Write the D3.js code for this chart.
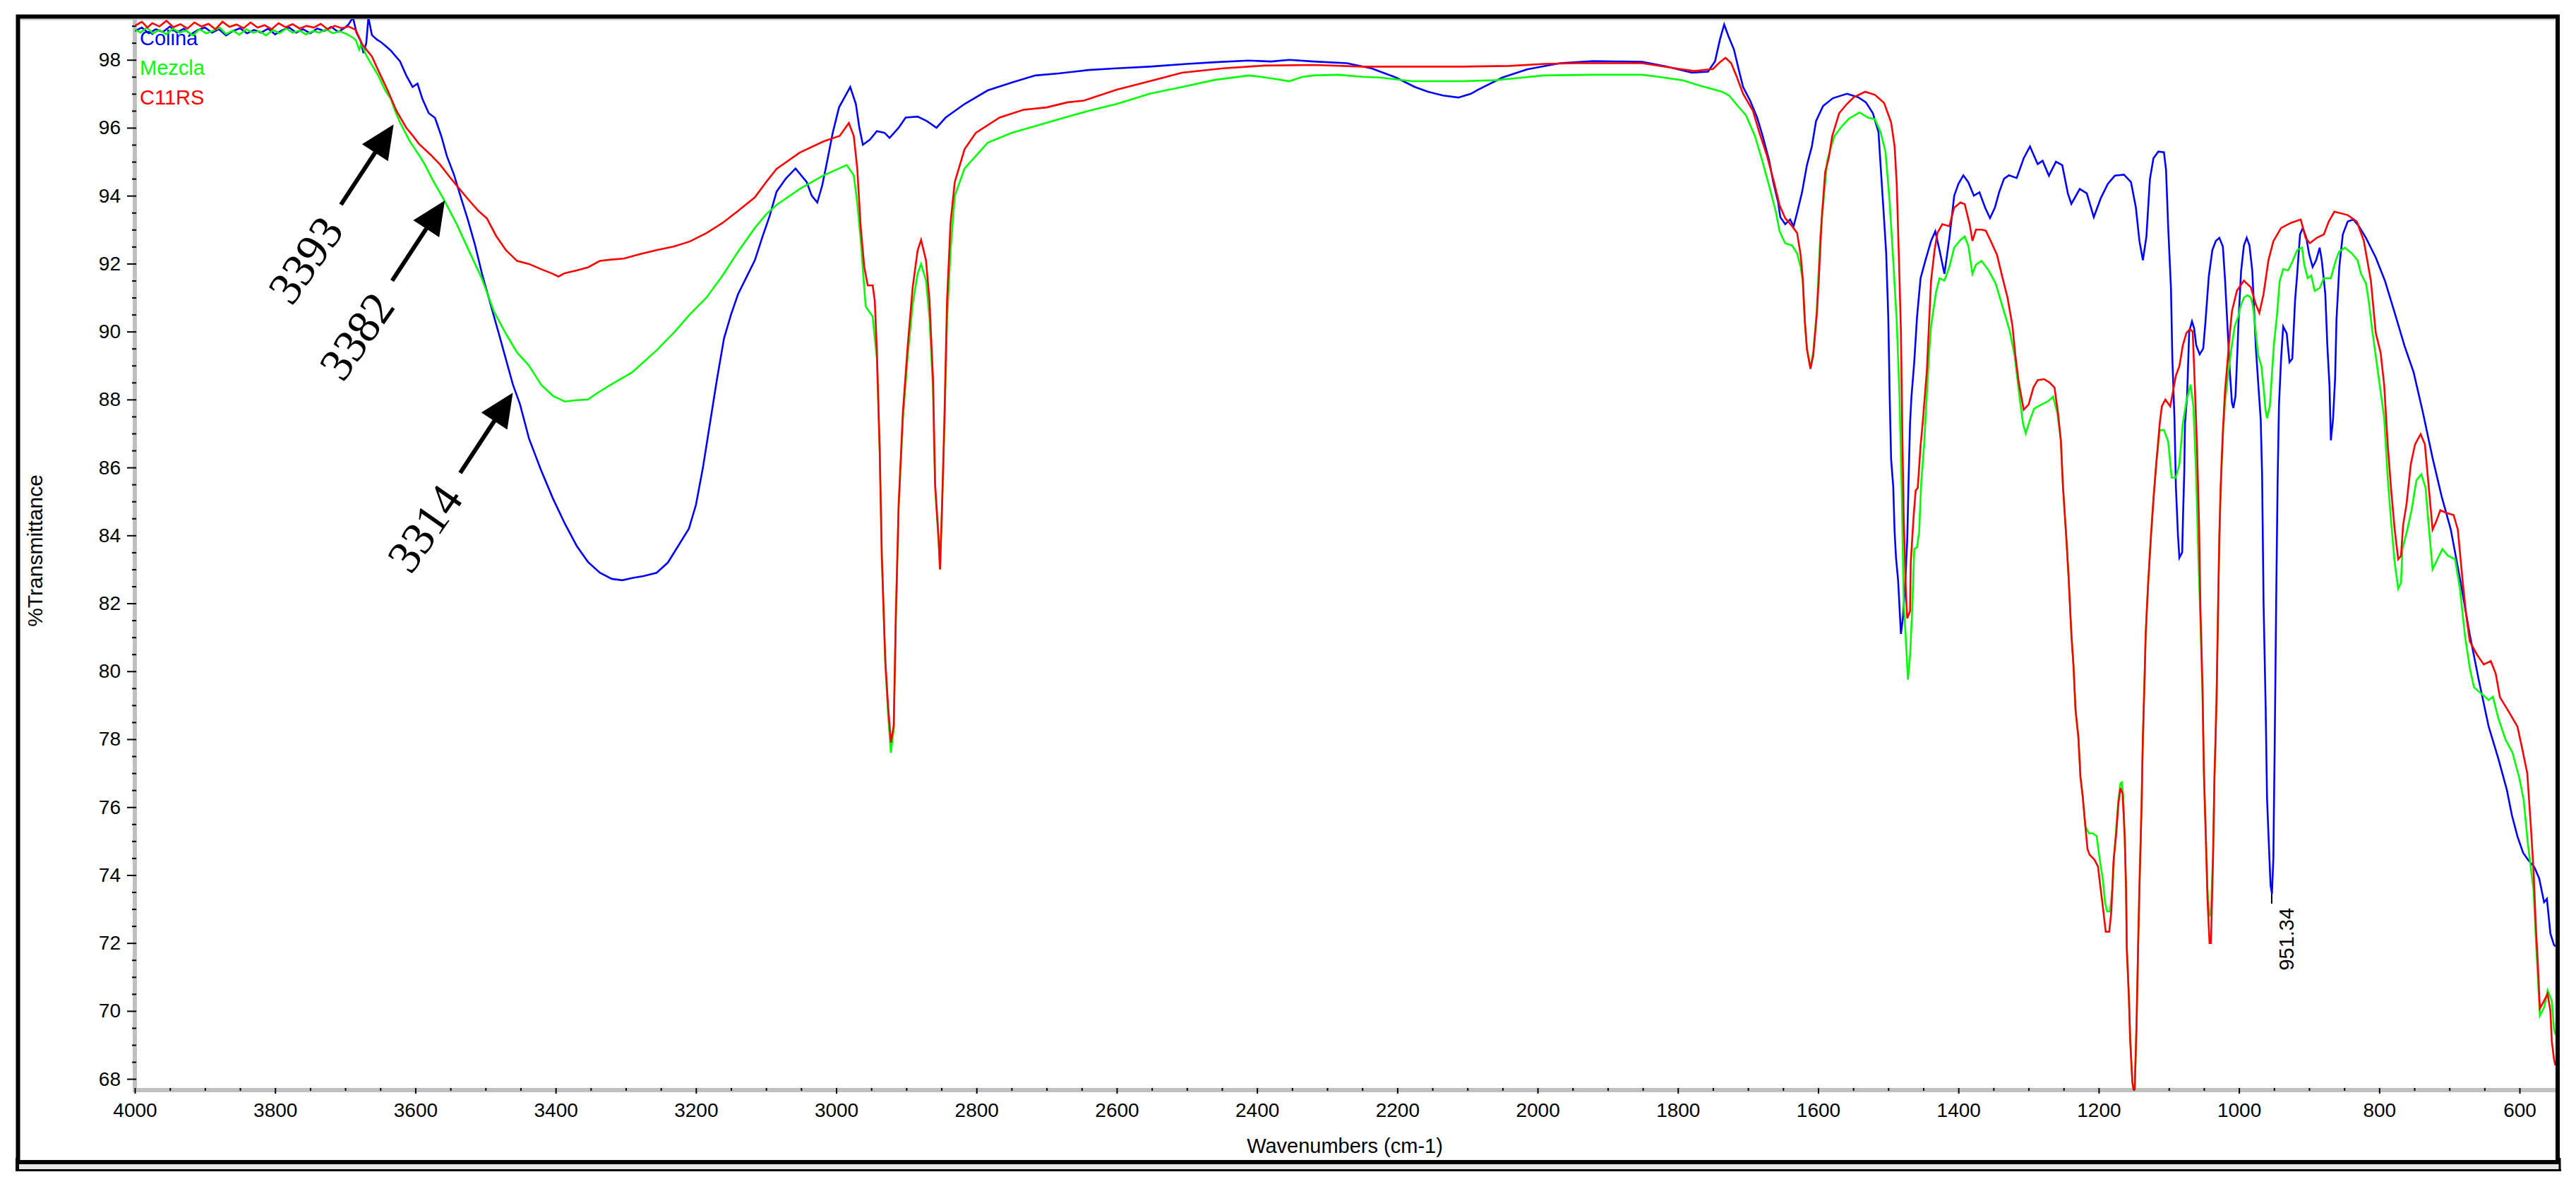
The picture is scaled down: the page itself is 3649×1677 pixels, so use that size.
<!DOCTYPE html>
<html><head><meta charset="utf-8">
<script src="https://cdn.jsdelivr.net/npm/d3@7"></script>
<style>
html,body{margin:0;padding:0;background:#fff;}
svg{display:block;}
</style></head><body>
<svg id="chart" width="3649" height="1677"></svg>
<script>
// ---------------- DATA ----------------
const seriesNames = ["Colina", "Mezcla", "C11RS"];
const seriesColors = ["#0000ff", "#00ff00", "#ff0000"];

// [wavenumber (cm-1), %T]
const colina = [[4000,98.85],[3990,98.95],[3980,98.78],[3970,98.9],[3960,98.82],[3950,98.98],[3940,98.8],[3930,98.92],[3920,98.75],[3910,98.88],[3900,98.95],[3890,98.8],[3880,98.9],[3870,98.72],[3860,98.85],[3850,98.93],[3840,98.78],[3830,98.88],[3820,98.8],[3810,98.92],[3800,98.75],[3790,98.87],[3780,98.95],[3770,98.8],[3760,98.9],[3750,98.78],[3740,98.92],[3730,98.85],[3720,98.97],[3710,98.82],[3700,98.95],[3695,99.05],[3689,99.25],[3684,98.8],[3678,98.55],[3674,98.2],[3670,98.5],[3667,99.25],[3662,98.73],[3655,98.6],[3649,98.52],[3642,98.4],[3635,98.27],[3628,98.1],[3622,97.96],[3613,97.54],[3604,97.2],[3597,97.3],[3590,96.85],[3581,96.43],[3572,96.29],[3563,95.75],[3555,95.16],[3545,94.62],[3535,93.94],[3525,93.28],[3515,92.55],[3505,91.7],[3491,90.67],[3481,89.94],[3471,89.19],[3461,88.44],[3451,87.87],[3438,86.85],[3421,85.93],[3404,85.09],[3387,84.35],[3370,83.69],[3354,83.22],[3337,82.9],[3320,82.72],[3305,82.68],[3290,82.75],[3275,82.8],[3256,82.9],[3240,83.2],[3225,83.7],[3210,84.2],[3200,84.9],[3190,86.0],[3180,87.3],[3170,88.6],[3160,89.8],[3150,90.5],[3140,91.1],[3128,91.6],[3116,92.1],[3105,92.8],[3095,93.4],[3085,94.12],[3072,94.5],[3058,94.8],[3042,94.4],[3035,94.0],[3027,93.8],[3020,94.3],[3015,94.8],[3005,95.85],[2996,96.6],[2988,96.9],[2980,97.2],[2972,96.7],[2967,96.0],[2962,95.5],[2952,95.65],[2942,95.9],[2931,95.85],[2924,95.7],[2911,96.0],[2901,96.3],[2884,96.33],[2871,96.2],[2857,96.0],[2844,96.3],[2817,96.7],[2784,97.1],[2750,97.33],[2716,97.54],[2683,97.6],[2640,97.7],[2600,97.75],[2553,97.8],[2500,97.88],[2460,97.93],[2412,97.98],[2380,97.95],[2354,98.0],[2319,97.95],[2272,97.9],[2237,97.75],[2202,97.48],[2175,97.2],[2156,97.06],[2135,96.95],[2113,96.89],[2095,97.0],[2085,97.12],[2050,97.48],[2015,97.72],[1968,97.9],[1921,97.96],[1880,97.95],[1851,97.94],[1816,97.8],[1780,97.62],[1757,97.65],[1747,97.96],[1740,98.6],[1734,99.04],[1728,98.7],[1720,98.3],[1713,97.69],[1707,97.2],[1697,96.8],[1687,96.3],[1679,95.75],[1670,95.05],[1664,94.4],[1657,93.8],[1654,93.37],[1647,93.16],[1640,93.3],[1635,93.1],[1630,93.5],[1623,94.1],[1616,94.9],[1609,95.45],[1603,96.2],[1593,96.64],[1579,96.87],[1559,97.0],[1543,96.9],[1532,96.75],[1522,96.43],[1514,95.87],[1511,94.9],[1506,93.3],[1503,92.3],[1500,90.4],[1498,88.08],[1496,86.25],[1493,85.45],[1491,84.1],[1489,83.34],[1486,82.67],[1484,81.88],[1482,81.1],[1479,81.6],[1476,82.55],[1473,83.87],[1471,85.7],[1469,87.3],[1467,88.08],[1463,89.1],[1459,90.44],[1454,91.57],[1447,92.1],[1439,92.67],[1433,92.95],[1427,92.4],[1420,91.7],[1413,92.74],[1406,94.0],[1400,94.35],[1393,94.6],[1386,94.4],[1378,94.0],[1370,94.1],[1362,93.65],[1355,93.34],[1348,93.65],[1342,94.1],[1335,94.5],[1328,94.6],[1317,94.52],[1307,95.1],[1298,95.45],[1287,94.93],[1280,95.03],[1271,94.59],[1261,95.0],[1252,94.9],[1244,94.07],[1239,93.76],[1227,94.2],[1217,94.07],[1207,93.37],[1197,93.93],[1187,94.35],[1177,94.59],[1164,94.62],[1154,94.4],[1147,93.65],[1142,92.67],[1137,92.1],[1132,92.8],[1127,94.49],[1122,95.1],[1115,95.3],[1107,95.28],[1104,94.76],[1101,93.1],[1097,91.28],[1095,89.2],[1092,87.45],[1090,85.45],[1087,84.0],[1085,83.34],[1081,83.5],[1080,84.39],[1078,85.9],[1077,87.3],[1074,88.1],[1071,90.0],[1067,90.3],[1064,90.1],[1061,89.6],[1056,89.33],[1051,89.5],[1048,90.24],[1043,91.63],[1038,92.4],[1033,92.67],[1028,92.76],[1023,92.5],[1020,91.57],[1016,90.0],[1013,88.8],[1010,87.9],[1008,87.75],[1005,88.1],[1003,89.06],[1000,90.6],[997,91.78],[993,92.53],[989,92.76],[985,92.53],[981,91.78],[976,89.54],[972,88.3],[969,87.4],[967,85.71],[965,82.05],[962,78.96],[960,76.25],[957,74.7],[955,73.7],[953,73.45],[951,74.5],[949,78.0],[947,82.0],[945,85.5],[943,87.83],[940,89.19],[937,90.15],[932,89.95],[928,89.1],[924,89.2],[920,90.93],[917,91.7],[913,92.86],[909,93.05],[904,92.76],[900,92.28],[895,91.9],[890,92.1],[885,92.47],[882,92.1],[877,91.12],[874,89.58],[871,88.42],[869,86.8],[866,87.4],[863,88.6],[861,90.35],[857,91.9],[852,92.86],[845,93.24],[837,93.3],[829,93.1],[819,92.76],[805,92.18],[792,91.5],[778,90.55],[764,89.58],[751,88.8],[738,87.64],[724,86.28],[711,85.14],[698,84.17],[684,82.62],[671,81.08],[658,79.73],[644,78.37],[630,77.41],[618,76.5],[611,75.77],[603,75.14],[595,74.66],[588,74.45],[579,74.24],[572,73.9],[565,73.2],[561,73.3],[556,72.28],[551,71.95],[549,71.9]];

const mezcla = [[4000,98.9],[3992,98.8],[3983,98.95],[3974,98.78],[3965,98.88],[3955,98.75],[3946,98.92],[3936,98.8],[3927,98.86],[3917,98.72],[3908,98.9],[3898,98.78],[3889,98.85],[3879,98.95],[3870,98.76],[3860,98.86],[3851,98.74],[3841,98.9],[3832,98.8],[3822,98.84],[3813,98.72],[3803,98.88],[3794,98.78],[3784,98.92],[3775,98.8],[3765,98.86],[3756,98.75],[3746,98.85],[3737,98.8],[3727,98.9],[3718,98.78],[3708,98.84],[3698,98.76],[3689,98.65],[3685,98.58],[3680,98.3],[3677,98.5],[3671,98.17],[3665,97.95],[3653,97.54],[3643,97.1],[3635,96.85],[3629,96.5],[3622,96.16],[3608,95.6],[3595,95.2],[3588,94.97],[3576,94.49],[3559,93.87],[3541,93.16],[3521,92.26],[3505,91.55],[3488,90.59],[3471,89.94],[3455,89.38],[3438,89.0],[3421,88.44],[3404,88.11],[3387,87.94],[3370,87.98],[3354,88.0],[3340,88.2],[3320,88.45],[3291,88.8],[3256,89.45],[3230,90.0],[3209,90.5],[3185,91.0],[3162,91.65],[3140,92.35],[3116,93.05],[3100,93.45],[3085,93.73],[3052,94.2],[3018,94.6],[2985,94.9],[2975,94.6],[2970,93.8],[2965,92.67],[2958,90.74],[2948,90.44],[2945,89.8],[2942,89.2],[2938,86.5],[2935,83.4],[2930,80.2],[2926,78.7],[2922,77.6],[2918,78.3],[2915,81.5],[2911,84.8],[2905,87.4],[2898,89.3],[2891,90.8],[2884,91.7],[2879,91.99],[2872,91.5],[2867,90.4],[2862,88.3],[2859,85.4],[2854,83.8],[2852,83.0],[2849,84.9],[2846,87.0],[2842,90.3],[2837,92.4],[2831,94.0],[2817,94.8],[2784,95.56],[2750,95.85],[2716,96.05],[2683,96.25],[2640,96.5],[2600,96.7],[2553,97.0],[2507,97.2],[2460,97.41],[2412,97.54],[2395,97.5],[2378,97.45],[2354,97.37],[2335,97.5],[2319,97.54],[2284,97.56],[2250,97.5],[2225,97.48],[2179,97.37],[2108,97.37],[2061,97.4],[2020,97.48],[1992,97.54],[1921,97.56],[1851,97.56],[1828,97.5],[1794,97.4],[1767,97.23],[1737,97.06],[1727,96.95],[1717,96.7],[1703,96.37],[1690,95.75],[1680,95.05],[1670,94.3],[1660,93.5],[1655,92.95],[1647,92.6],[1637,92.53],[1630,92.3],[1625,91.9],[1622,91.5],[1619,90.3],[1616,89.5],[1611,88.95],[1607,89.4],[1602,90.6],[1597,92.8],[1587,95.05],[1577,95.75],[1566,96.05],[1556,96.27],[1541,96.45],[1529,96.3],[1519,96.25],[1511,95.87],[1504,95.3],[1498,93.8],[1493,92.1],[1488,90.3],[1484,88.1],[1481,85.45],[1478,82.03],[1474,80.57],[1472,79.75],[1469,80.44],[1466,81.76],[1463,83.6],[1459,83.65],[1456,84.1],[1453,85.58],[1449,86.64],[1446,87.8],[1442,89.3],[1439,90.17],[1432,91.15],[1427,91.57],[1420,91.5],[1413,91.9],[1406,92.47],[1397,92.7],[1391,92.8],[1386,92.53],[1380,91.7],[1375,91.97],[1367,92.08],[1357,91.8],[1347,91.42],[1337,90.73],[1327,90.03],[1320,89.3],[1313,88.1],[1308,87.3],[1304,87.0],[1298,87.4],[1292,87.73],[1282,87.85],[1272,87.95],[1265,88.08],[1259,87.6],[1254,86.8],[1251,85.45],[1246,83.87],[1243,82.8],[1239,81.1],[1236,80.17],[1233,78.85],[1229,78.06],[1226,76.88],[1223,76.35],[1219,75.43],[1214,75.23],[1209,75.23],[1203,75.15],[1198,74.38],[1194,73.85],[1191,73.2],[1188,72.93],[1184,72.93],[1182,73.3],[1180,73.7],[1178,74.6],[1175,75.4],[1172,76.2],[1169,76.7],[1167,76.73],[1165,76.3],[1163,75.17],[1161,73.6],[1160,71.87],[1157,70.42],[1155,69.1],[1152,67.9],[1149,67.5],[1146,69.63],[1144,71.74],[1142,73.6],[1139,75.95],[1137,78.06],[1135,79.5],[1133,81.1],[1130,82.4],[1127,83.47],[1125,84.14],[1122,85.05],[1118,86.1],[1113,87.1],[1107,87.1],[1101,86.77],[1096,85.7],[1090,85.7],[1085,86.1],[1080,87.3],[1075,87.95],[1069,88.44],[1065,87.8],[1061,85.71],[1058,83.4],[1055,81.5],[1052,79.3],[1050,77.0],[1047,75.0],[1045,73.6],[1042,72.78],[1040,72.9],[1037,74.6],[1035,76.83],[1032,79.15],[1030,81.65],[1028,83.9],[1026,85.4],[1023,86.9],[1020,87.9],[1016,88.65],[1011,89.48],[1006,90.17],[1001,90.44],[998,90.73],[993,91.0],[988,91.07],[983,91.0],[980,90.73],[977,90.17],[973,89.33],[968,88.98],[965,88.36],[962,87.67],[960,87.45],[956,87.8],[953,88.77],[950,89.68],[946,90.44],[942,91.48],[937,91.84],[930,91.8],[924,92.05],[917,92.4],[910,92.47],[907,91.97],[902,91.57],[897,91.65],[892,91.2],[885,91.28],[879,91.57],[869,91.57],[862,92.1],[857,92.36],[849,92.47],[839,92.3],[831,92.1],[826,91.7],[819,91.42],[815,90.9],[810,90.03],[803,88.98],[793,87.46],[788,85.71],[783,84.37],[778,83.2],[773,82.43],[769,82.6],[767,83.6],[760,84.17],[754,84.74],[747,85.62],[740,85.8],[734,85.4],[729,84.17],[724,83.0],[717,83.3],[710,83.6],[702,83.4],[692,83.3],[685,82.43],[678,81.08],[671,80.1],[665,79.53],[655,79.35],[644,79.15],[638,79.25],[630,78.6],[620,77.99],[610,77.6],[600,76.83],[594,76.2],[588,74.9],[580,73.55],[576,71.8],[571,69.86],[565,70.1],[560,70.6],[554,70.3],[551,69.5],[549,69.3]];

const c11rs = [[4000,99.0],[3990,99.12],[3982,98.95],[3975,99.08],[3965,98.98],[3955,99.15],[3945,98.96],[3935,99.05],[3925,98.92],[3915,99.1],[3905,98.98],[3895,99.06],[3885,98.9],[3875,99.12],[3865,98.97],[3855,99.04],[3845,98.93],[3835,99.1],[3825,98.95],[3815,99.02],[3805,98.9],[3795,99.08],[3785,98.96],[3775,99.05],[3765,98.92],[3755,99.0],[3745,98.95],[3735,99.06],[3725,98.9],[3715,99.0],[3705,98.93],[3695,98.98],[3685,98.88],[3676,98.46],[3662,98.1],[3653,97.69],[3640,97.12],[3627,96.5],[3613,96.0],[3605,95.8],[3595,95.53],[3578,95.2],[3565,94.92],[3551,94.55],[3538,94.22],[3525,93.9],[3511,93.57],[3498,93.33],[3485,92.82],[3471,92.4],[3455,92.08],[3438,91.99],[3421,91.84],[3404,91.7],[3396,91.62],[3387,91.72],[3370,91.8],[3354,91.89],[3337,92.08],[3320,92.12],[3303,92.15],[3280,92.28],[3256,92.4],[3232,92.5],[3209,92.65],[3185,92.9],[3162,93.2],[3140,93.55],[3116,93.95],[3100,94.4],[3085,94.79],[3052,95.27],[3018,95.6],[2995,95.76],[2982,96.14],[2975,95.76],[2970,94.8],[2965,93.05],[2960,91.9],[2955,91.36],[2948,91.36],[2945,90.9],[2942,89.4],[2938,86.5],[2935,83.4],[2930,80.3],[2926,78.96],[2922,77.9],[2918,78.4],[2915,81.65],[2911,84.9],[2905,87.6],[2898,89.6],[2891,91.3],[2884,92.38],[2879,92.7],[2872,92.1],[2867,90.9],[2862,88.6],[2859,85.5],[2854,83.9],[2852,83.0],[2849,84.95],[2846,87.2],[2842,90.9],[2837,93.2],[2831,94.4],[2817,95.37],[2801,95.85],[2767,96.3],[2733,96.53],[2700,96.6],[2670,96.75],[2647,96.8],[2600,97.12],[2553,97.37],[2507,97.62],[2448,97.75],[2389,97.83],[2319,97.85],[2249,97.8],[2180,97.8],[2110,97.8],[2040,97.82],[1990,97.88],[1944,97.9],[1900,97.9],[1851,97.9],[1828,97.83],[1804,97.75],[1777,97.67],[1750,97.73],[1740,97.93],[1732,98.06],[1724,97.9],[1717,97.55],[1707,97.0],[1693,96.5],[1684,95.87],[1673,95.18],[1663,94.4],[1655,93.72],[1647,93.34],[1637,93.1],[1630,92.9],[1625,92.26],[1622,91.57],[1619,90.3],[1616,89.48],[1611,88.9],[1607,89.3],[1602,90.5],[1599,91.57],[1595,93.3],[1590,94.7],[1585,95.1],[1580,95.75],[1570,96.43],[1559,96.7],[1549,96.9],[1533,97.06],[1519,96.97],[1506,96.73],[1496,96.16],[1491,95.45],[1488,94.35],[1485,92.26],[1482,90.0],[1480,87.0],[1478,84.5],[1475,82.4],[1473,81.56],[1469,81.76],[1468,83.2],[1464,84.53],[1461,85.32],[1458,85.4],[1454,86.64],[1451,87.3],[1448,88.08],[1445,88.85],[1442,90.2],[1439,91.5],[1434,92.4],[1430,92.9],[1423,93.16],[1413,93.1],[1406,93.65],[1397,93.8],[1391,93.75],[1384,93.16],[1380,92.67],[1375,93.0],[1367,93.0],[1361,92.97],[1354,92.67],[1345,92.26],[1337,91.57],[1330,91.0],[1323,90.17],[1319,89.33],[1314,88.5],[1307,87.7],[1300,87.85],[1293,88.36],[1287,88.57],[1278,88.6],[1270,88.5],[1263,88.35],[1258,87.6],[1254,86.8],[1251,85.45],[1246,83.87],[1243,82.8],[1239,81.1],[1236,80.17],[1233,78.85],[1229,78.06],[1226,76.88],[1223,76.35],[1219,75.43],[1216,74.77],[1213,74.6],[1206,74.45],[1201,74.25],[1198,73.72],[1194,73.05],[1190,72.33],[1185,72.33],[1182,72.93],[1179,74.38],[1175,75.23],[1172,76.09],[1169,76.56],[1166,76.4],[1163,75.17],[1161,73.6],[1160,71.87],[1157,70.42],[1155,69.1],[1152,67.9],[1149,67.5],[1146,69.63],[1144,71.74],[1142,73.6],[1139,75.95],[1137,78.06],[1135,79.5],[1133,81.1],[1130,82.4],[1127,83.47],[1125,84.14],[1122,85.05],[1118,86.1],[1113,87.3],[1110,87.8],[1105,88.0],[1098,87.8],[1093,88.36],[1090,88.7],[1085,88.98],[1080,89.6],[1075,89.96],[1070,90.07],[1066,90.0],[1063,88.42],[1060,86.68],[1057,84.37],[1055,81.85],[1052,79.53],[1050,77.0],[1047,74.9],[1045,73.35],[1042,72.0],[1040,72.0],[1037,74.5],[1035,76.83],[1032,79.15],[1030,81.65],[1028,83.97],[1026,85.5],[1023,87.06],[1020,88.23],[1016,89.2],[1013,89.96],[1010,90.6],[1003,91.2],[993,91.5],[983,91.3],[976,90.8],[971,90.55],[965,91.1],[958,92.1],[951,92.66],[940,93.05],[926,93.2],[912,93.3],[905,92.76],[899,92.6],[889,92.76],[879,92.86],[872,93.24],[864,93.53],[845,93.43],[832,93.24],[822,92.67],[812,91.5],[805,89.96],[798,89.37],[793,88.42],[788,86.68],[783,85.33],[778,84.17],[773,83.3],[769,83.4],[766,84.3],[761,84.94],[755,86.1],[749,86.68],[741,86.98],[735,86.68],[729,85.33],[724,84.17],[719,84.4],[713,84.74],[704,84.66],[694,84.6],[688,84.17],[681,82.62],[676,81.65],[671,80.88],[661,80.5],[651,80.2],[641,80.3],[634,79.93],[628,79.24],[614,78.76],[603,78.37],[597,77.8],[589,77.0],[584,75.47],[580,74.13],[577,72.58],[574,71.42],[571,70.07],[565,70.3],[560,70.5],[556,70.0],[554,69.1],[551,68.6],[549,68.4]];

const xTickValues = [4000,3800,3600,3400,3200,3000,2800,2600,2400,2200,2000,1800,1600,1400,1200,1000,800,600];
const yTickValues = [68,70,72,74,76,78,80,82,84,86,88,90,92,94,96,98];
const xTitle = "Wavenumbers (cm-1)";
const yTitle = "%Transmittance";

// band annotations (arrow tip = point on spectrum)
const arrowLabels = ["3393", "3382", "3314"];
const arrowWn = [3631, 3558, 3461];
const arrowT = [96.1, 93.86, 88.2];
// peak label
const peakLabel = "951.34";
const peakWn = 951.34;
const peakT = 73.45;

// ---------------- LAYOUT ----------------
const svg = d3.select("#chart");
const plot = {left: 191, right: 3620, top: 27, bottom: 1544};
const x = d3.scaleLinear().domain([4000, 548.7]).range([plot.left, plot.right]);
const y = d3.scaleLinear().domain([67.67, 99.2]).range([plot.bottom, plot.top]);
const sansFont = "'Liberation Sans', Arial, Helvetica, sans-serif";
const serifFont = "'Liberation Serif', 'Times New Roman', serif";

svg.append("rect").attr("x",0).attr("y",0).attr("width",3649).attr("height",1677).attr("fill","#fff");

// outer window frame
svg.append("line").attr("x1",22).attr("x2",3628).attr("y1",1652).attr("y2",1652).attr("stroke","#e6e6e6").attr("stroke-width",8);
svg.append("line").attr("x1",22).attr("x2",3628).attr("y1",1657.5).attr("y2",1657.5).attr("stroke","#000").attr("stroke-width",3);
svg.append("line").attr("x1",3626).attr("x2",3626).attr("y1",1640).attr("y2",1659).attr("stroke","#000").attr("stroke-width",3);
svg.append("line").attr("x1",24.5).attr("x2",24.5).attr("y1",1640).attr("y2",1659).attr("stroke","#000").attr("stroke-width",5);
svg.append("rect").attr("x",25.5).attr("y",23.5).attr("width",3597.5).attr("height",1622.5)
  .attr("fill","none").attr("stroke","#000").attr("stroke-width",6);
svg.append("line").attr("x1",29).attr("x2",3619).attr("y1",28).attr("y2",28).attr("stroke","#c8c8c8").attr("stroke-width",1.5);

// axis bands (grey)
svg.append("rect").attr("x",188).attr("y",plot.top).attr("width",6).attr("height",plot.bottom + 3 - plot.top).attr("fill","#c0c0c0");
svg.append("rect").attr("x",188).attr("y",plot.bottom - 3).attr("width",plot.right - 188).attr("height",6).attr("fill","#c0c0c0");

// y axis
const yMinor = d3.range(68, 99.01, 0.5).filter(v => !yTickValues.includes(v));
const gyMinor = svg.append("g").attr("transform","translate(193,0)")
  .call(d3.axisLeft(y).tickValues(yMinor).tickSize(6).tickFormat(""));
const gy = svg.append("g").attr("transform","translate(193,0)")
  .call(d3.axisLeft(y).tickValues(yTickValues).tickSize(13).tickPadding(9).tickFormat(d3.format("d")));
[gy, gyMinor].forEach(g => {
  g.select(".domain").remove();
  g.selectAll(".tick line").attr("stroke","#000").attr("stroke-width",2);
});
gy.attr("font-family", sansFont).attr("font-size", 28);
gy.selectAll(".tick text").attr("fill","#000");

// x axis
const xMinor = d3.range(600, 4001, 50).filter(v => !xTickValues.includes(v));
const gxMinor = svg.append("g").attr("transform","translate(0," + (plot.bottom - 3) + ")")
  .call(d3.axisBottom(x).tickValues(xMinor).tickSize(4).tickFormat(""));
const gx = svg.append("g").attr("transform","translate(0," + (plot.bottom - 3) + ")")
  .call(d3.axisBottom(x).tickValues(xTickValues).tickSize(8).tickPadding(13).tickFormat(d3.format("d")));
[gx, gxMinor].forEach(g => {
  g.select(".domain").remove();
  g.selectAll(".tick line").attr("stroke","#000").attr("stroke-width",2);
});
gx.attr("font-family", sansFont).attr("font-size", 28);
gx.selectAll(".tick text").attr("fill","#000");

// axis titles
svg.append("text").attr("x", 1905).attr("y", 1633).attr("text-anchor","middle")
  .attr("font-family", sansFont).attr("font-size", 29).attr("fill","#000").text(xTitle);
svg.append("text").attr("transform","translate(60,780) rotate(-90)").attr("text-anchor","middle")
  .attr("font-family", sansFont).attr("font-size", 30).attr("fill","#000").text(yTitle);

// legend (drawn under the curves)
seriesNames.forEach((n, i) => {
  svg.append("text").attr("x", 198).attr("y", 64 + i * 42)
    .attr("font-family", sansFont).attr("font-size", 29).attr("fill", seriesColors[i]).text(n);
});

// spectra
svg.append("clipPath").attr("id","plotClip").append("rect")
  .attr("x", plot.left).attr("y", plot.top).attr("width", plot.right - plot.left).attr("height", plot.bottom - plot.top);
const line = d3.line().x(d => x(d[0])).y(d => y(d[1])).curve(d3.curveLinear);
const gLines = svg.append("g").attr("clip-path","url(#plotClip)");
[colina, mezcla, c11rs].forEach((s, i) => {
  gLines.append("path").datum(s).attr("d", line).attr("fill","none")
    .attr("stroke", seriesColors[i]).attr("stroke-width", 2.6).attr("stroke-linejoin","miter");
});

// arrows with labels
const ang = -56.7 * Math.PI / 180;
const ux = Math.cos(ang), uy = Math.sin(ang);
const px = -uy, py = ux;
const shaftLen = 136, headLen = 48, headHalf = 22;
const gAnn = svg.append("g");
arrowLabels.forEach((lab, i) => {
  const tx = x(arrowWn[i]), ty = y(arrowT[i]);
  const bx = tx - headLen * ux, by = ty - headLen * uy;
  const sx = tx - shaftLen * ux, sy = ty - shaftLen * uy;
  gAnn.append("line").attr("x1", sx).attr("y1", sy).attr("x2", bx + 4 * ux).attr("y2", by + 4 * uy)
    .attr("stroke","#000").attr("stroke-width", 6);
  gAnn.append("polygon").attr("points", [
    [tx, ty], [bx + px * headHalf, by + py * headHalf], [bx - px * headHalf, by - py * headHalf]
  ].map(p => p.join(",")).join(" ")).attr("fill","#000");
  gAnn.append("text").attr("transform", "translate(" + (tx - 125) + "," + (ty + 192) + ") rotate(-55)")
    .attr("text-anchor","middle").attr("dominant-baseline","central")
    .attr("font-family", serifFont).attr("font-size", 66).attr("fill","#000").text(lab);
});

// peak label 951.34
const pkx = x(peakWn), pky = y(peakT);
gAnn.append("line").attr("x1", pkx - 2).attr("x2", pkx - 2).attr("y1", pky).attr("y2", pky + 14)
  .attr("stroke","#000").attr("stroke-width", 2);
gAnn.append("text").attr("transform", "translate(" + (pkx + 29) + "," + (pky + 20) + ") rotate(-90)")
  .attr("text-anchor","end").attr("font-family", sansFont).attr("font-size", 29).attr("fill","#000").text(peakLabel);
</script>
</body></html>
